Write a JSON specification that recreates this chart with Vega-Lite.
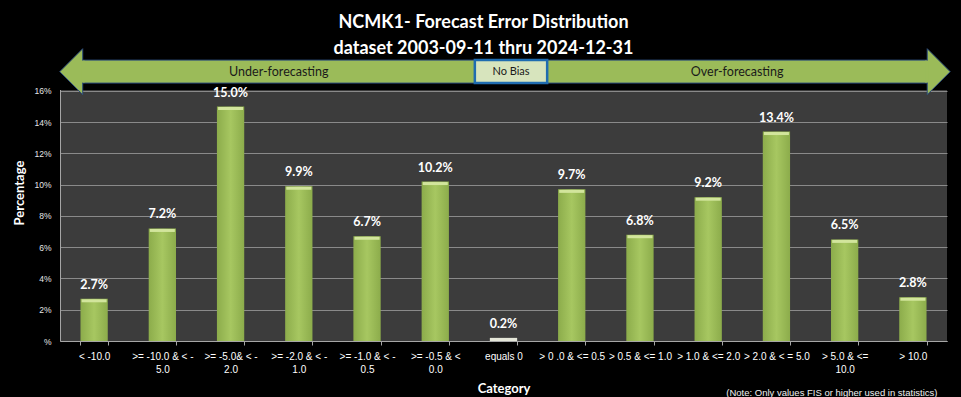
{
  "$schema": "https://vega.github.io/schema/vega-lite/v6.json",
  "width": 887,
  "height": 297,
  "autosize": {"type": "none"},
  "padding": {"left": 60, "top": 44, "right": 14, "bottom": 56},
  "background": "black",
  "config": {"view": {"stroke": null, "fill": "#3c3c3c"}},
  "title": {
    "text": ["NCMK1- Forecast Error Distribution", "dataset 2003-09-11  thru 2024-12-31"],
    "color": "white", "font": "Lato", "fontSize": 18, "fontWeight": "bold",
    "lineHeight": 26.5, "anchor": "middle", "dx": -20, "dy": 30, "offset": 0
  },
  "datasets": {
    "bars": [
      {"category": "< -10.0", "pct": 0.027},
      {"category": ">= -10.0 & < -5.0", "pct": 0.072},
      {"category": ">= -5.0& < -2.0", "pct": 0.150},
      {"category": ">= -2.0 & < -1.0", "pct": 0.099},
      {"category": ">= -1.0 & < -0.5", "pct": 0.067},
      {"category": ">= -0.5 & < 0.0", "pct": 0.102},
      {"category": "equals 0", "pct": 0.002},
      {"category": "> 0 .0 & <= 0.5", "pct": 0.097},
      {"category": "> 0.5 & <= 1.0", "pct": 0.068},
      {"category": "> 1.0 & <= 2.0", "pct": 0.092},
      {"category": "> 2.0 & < = 5.0", "pct": 0.134},
      {"category": "> 5.0 & <= 10.0", "pct": 0.065},
      {"category": "> 10.0", "pct": 0.028}
    ],
    "banner": [
      {"label": "Under-forecasting", "start": 0.333, "end": 6.08},
      {"label": "Over-forecasting", "start": 7.14, "end": 12.71},
      {"label": "No  Bias", "start": 6.08, "end": 7.14}
    ]
  },
  "resolve": {
    "scale": {"x": "independent", "y": "independent"},
    "axis": {"x": "independent", "y": "independent"}
  },
  "layer": [
    {
      "data": {"values": [{}]},
      "mark": {"type": "rect", "fill": "black"},
      "encoding": {
        "x": {"datum": -0.05, "type": "quantitative", "scale": {"domain": [0, 13]}, "axis": null},
        "x2": {"datum": 13.05},
        "y": {"datum": 0.1606, "type": "quantitative", "scale": {"domain": [0, 0.19], "nice": false}, "axis": null},
        "y2": {"datum": 0.2}
      }
    },
    {
      "data": {"name": "bars"},
      "encoding": {
        "x": {
          "field": "category", "type": "nominal", "sort": null,
          "scale": {"paddingInner": 0.6, "paddingOuter": 0.3},
          "axis": {
            "title": "Category", "titleColor": "white", "titleFont": "Lato", "titleFontSize": 13,
            "titleFontWeight": "bold", "titlePadding": 8,
            "labelAngle": 0, "labelColor": "white", "labelFont": "Liberation Sans", "labelFontSize": 10,
            "labelPadding": 6, "labelLineHeight": 13, "labelLimit": 100,
            "labelExpr": "indexof(datum.label, '>=') == 0 ? [slice(datum.label, 0, -3), slice(datum.label, -3)] : (datum.label == '> 5.0 & <= 10.0' ? ['> 5.0 & <=', '10.0'] : datum.label)",
            "tickBand": "extent", "ticks": true, "tickSize": 4, "tickColor": "#a6a6a6",
            "domainColor": "#a6a6a6", "grid": false
          }
        },
        "y": {
          "field": "pct", "type": "quantitative",
          "scale": {"domain": [0, 0.19], "nice": false},
          "axis": {
            "title": "Percentage", "titleColor": "white", "titleFont": "Lato", "titleFontSize": 13,
            "titleFontWeight": "bold", "titlePadding": 7,
            "values": [0, 0.02, 0.04, 0.06, 0.08, 0.1, 0.12, 0.14, 0.16],
            "labelExpr": "datum.value == 0 ? '%' : format(datum.value, '.0%')",
            "labelOverlap": false,
            "labelColor": "#e6e6e6", "labelFont": "Liberation Sans", "labelFontSize": 8.5,
            "ticks": false, "tickSize": 0, "labelPadding": 9,
            "domainColor": "#a6a6a6", "grid": true, "gridColor": "#8a8a8a", "gridWidth": 1
          }
        }
      },
      "layer": [
        {
          "mark": {"type": "bar"},
          "encoding": {
            "fill": {
              "condition": {"test": "datum.category == 'equals 0'", "value": "#e4e6d8"},
              "value": {"gradient": "linear", "x1": 0, "x2": 1, "y1": 0, "y2": 0,
                "stops": [{"offset": 0, "color": "#8cac4b"}, {"offset": 0.5, "color": "#a7c761"}, {"offset": 1, "color": "#8cac4b"}]}
            }
          }
        },
        {
          "mark": {"type": "tick", "color": "#d2e59c", "thickness": 3, "size": 25, "yOffset": 2},
          "encoding": {
            "opacity": {"condition": {"test": "datum.category == 'equals 0'", "value": 0}, "value": 1}
          }
        },
        {
          "mark": {"type": "text", "color": "white", "font": "Lato", "fontSize": 12.5, "fontWeight": "bold", "baseline": "bottom", "dy": -7},
          "encoding": {
            "text": {"field": "pct", "type": "quantitative", "format": ".1%"}
          }
        }
      ]
    },
    {
      "encoding": {
        "y": {"datum": 0.1723, "type": "quantitative", "scale": {"domain": [0, 0.19], "nice": false}, "axis": null}
      },
      "layer": [
        {
          "data": {"values": [{}]},
          "mark": {"type": "point", "shape": "M-1,0L0,-1L0,1Z", "size": 2116, "filled": true, "fill": "#9bbb59", "stroke": "#2b4a7a", "strokeWidth": 1, "opacity": 1},
          "encoding": {
            "x": {"datum": 0.333, "type": "quantitative", "scale": {"domain": [0, 13]}, "axis": null}
          }
        },
        {
          "data": {"values": [{}]},
          "mark": {"type": "point", "shape": "M1,0L0,-1L0,1Z", "size": 2116, "filled": true, "fill": "#9bbb59", "stroke": "#2b4a7a", "strokeWidth": 1, "opacity": 1},
          "encoding": {
            "x": {"datum": 12.71, "type": "quantitative", "scale": {"domain": [0, 13]}, "axis": null}
          }
        },
        {
          "data": {"name": "banner"},
          "mark": {"type": "rect"},
          "encoding": {
            "x": {"field": "start", "type": "quantitative", "scale": {"domain": [0, 13]}, "axis": null},
            "x2": {"field": "end"},
            "y": {"datum": 0.1650, "type": "quantitative", "scale": {"domain": [0, 0.19], "nice": false}, "axis": null},
            "y2": {"datum": 0.1797},
            "fill": {"condition": {"test": "datum.label == 'No  Bias'", "value": "#d7e4bd"}, "value": "#9bbb59"},
            "stroke": {"condition": {"test": "datum.label == 'No  Bias'", "value": "#1f6cb0"}, "value": "#2b4a7a"},
            "strokeWidth": {"condition": {"test": "datum.label == 'No  Bias'", "value": 2.5}, "value": 1}
          }
        },
        {
          "data": {"values": [{}]},
          "mark": {"type": "rect", "fill": "#9bbb59"},
          "encoding": {
            "x": {"datum": 0.31, "type": "quantitative", "scale": {"domain": [0, 13]}, "axis": null},
            "x2": {"datum": 0.36},
            "y": {"datum": 0.1653, "type": "quantitative", "scale": {"domain": [0, 0.19], "nice": false}, "axis": null},
            "y2": {"datum": 0.1794}
          }
        },
        {
          "data": {"values": [{}]},
          "mark": {"type": "rect", "fill": "#9bbb59"},
          "encoding": {
            "x": {"datum": 12.68, "type": "quantitative", "scale": {"domain": [0, 13]}, "axis": null},
            "x2": {"datum": 12.73},
            "y": {"datum": 0.1653, "type": "quantitative", "scale": {"domain": [0, 0.19], "nice": false}, "axis": null},
            "y2": {"datum": 0.1794}
          }
        },
        {
          "data": {"name": "banner"},
          "transform": [
            {"fold": ["start", "end"], "as": ["edge", "pos"]},
            {"aggregate": [{"op": "mean", "field": "pos", "as": "mid"}], "groupby": ["label"]}
          ],
          "mark": {"type": "text", "font": "Lato", "color": "#1a1a1a", "align": "center", "baseline": "middle"},
          "encoding": {
            "x": {"field": "mid", "type": "quantitative", "scale": {"domain": [0, 13]}, "axis": null},
            "text": {"field": "label", "type": "nominal"},
            "size": {"condition": {"test": "datum.label == 'No  Bias'", "value": 11}, "value": 12.5}
          }
        },
        {
          "data": {"values": [{"note": "(Note: Only values FIS or higher used in statistics)"}]},
          "mark": {"type": "text", "font": "Liberation Sans", "fontSize": 9.5, "color": "#f0f0f0", "align": "right", "baseline": "middle"},
          "encoding": {
            "x": {"datum": 12.86, "type": "quantitative", "scale": {"domain": [0, 13]}, "axis": null},
            "y": {"datum": -0.0331, "type": "quantitative", "scale": {"domain": [0, 0.19], "nice": false}, "axis": null},
            "text": {"field": "note", "type": "nominal"}
          }
        }
      ]
    }
  ]
}
